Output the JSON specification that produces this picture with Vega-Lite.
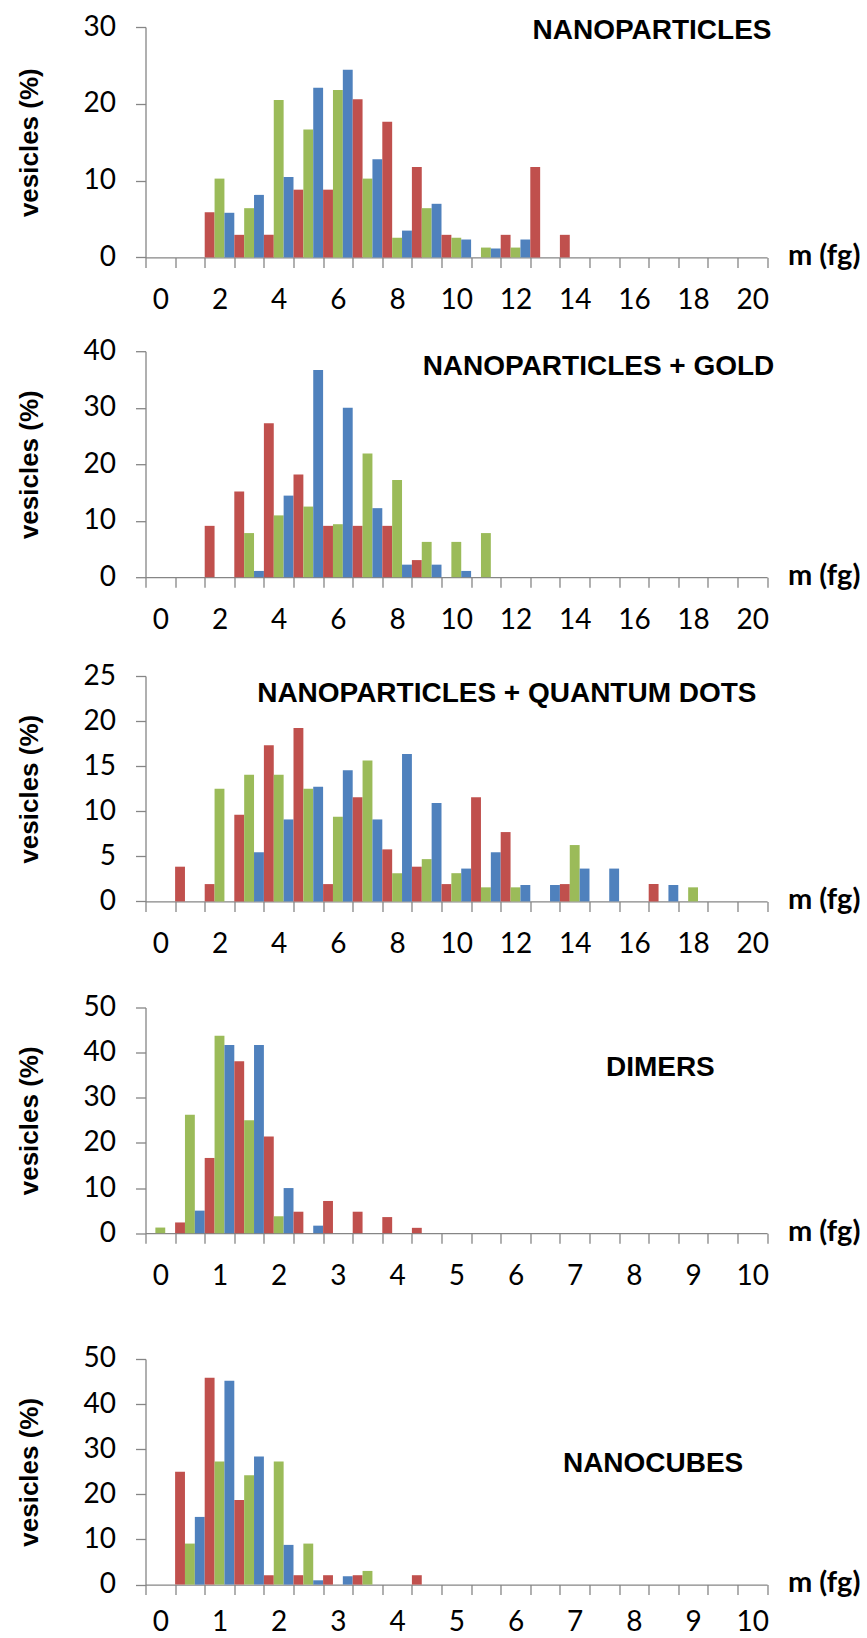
{
  "$schema": "https://vega.github.io/schema/vega-lite/v6.json",
  "padding": {"left": 15.5, "top": 13, "right": 0, "bottom": 0},
  "datasets": {
    "np": [
      {"c": 2, "s": "r", "v": 5.88}, {"c": 2, "s": "g", "v": 10.26}, {"c": 2, "s": "b", "v": 5.81},
      {"c": 3, "s": "r", "v": 2.94}, {"c": 3, "s": "g", "v": 6.41}, {"c": 3, "s": "b", "v": 8.14},
      {"c": 4, "s": "r", "v": 2.94}, {"c": 4, "s": "g", "v": 20.51}, {"c": 4, "s": "b", "v": 10.47},
      {"c": 5, "s": "r", "v": 8.82}, {"c": 5, "s": "g", "v": 16.67}, {"c": 5, "s": "b", "v": 22.09},
      {"c": 6, "s": "r", "v": 8.82}, {"c": 6, "s": "g", "v": 21.79}, {"c": 6, "s": "b", "v": 24.42},
      {"c": 7, "s": "r", "v": 20.59}, {"c": 7, "s": "g", "v": 10.26}, {"c": 7, "s": "b", "v": 12.79},
      {"c": 8, "s": "r", "v": 17.65}, {"c": 8, "s": "g", "v": 2.56}, {"c": 8, "s": "b", "v": 3.49},
      {"c": 9, "s": "r", "v": 11.76}, {"c": 9, "s": "g", "v": 6.41}, {"c": 9, "s": "b", "v": 6.98},
      {"c": 10, "s": "r", "v": 2.94}, {"c": 10, "s": "g", "v": 2.56}, {"c": 10, "s": "b", "v": 2.33},
      {"c": 11, "s": "g", "v": 1.28}, {"c": 11, "s": "b", "v": 1.16},
      {"c": 12, "s": "r", "v": 2.94}, {"c": 12, "s": "g", "v": 1.28}, {"c": 12, "s": "b", "v": 2.33},
      {"c": 13, "s": "r", "v": 11.76},
      {"c": 14, "s": "r", "v": 2.94}
    ],
    "gold": [
      {"c": 2, "s": "r", "v": 9.09},
      {"c": 3, "s": "r", "v": 15.15}, {"c": 3, "s": "g", "v": 7.81}, {"c": 3, "s": "b", "v": 1.11},
      {"c": 4, "s": "r", "v": 27.27}, {"c": 4, "s": "g", "v": 10.94}, {"c": 4, "s": "b", "v": 14.44},
      {"c": 5, "s": "r", "v": 18.18}, {"c": 5, "s": "g", "v": 12.5}, {"c": 5, "s": "b", "v": 36.67},
      {"c": 6, "s": "r", "v": 9.09}, {"c": 6, "s": "g", "v": 9.38}, {"c": 6, "s": "b", "v": 30.0},
      {"c": 7, "s": "r", "v": 9.09}, {"c": 7, "s": "g", "v": 21.88}, {"c": 7, "s": "b", "v": 12.22},
      {"c": 8, "s": "r", "v": 9.09}, {"c": 8, "s": "g", "v": 17.19}, {"c": 8, "s": "b", "v": 2.22},
      {"c": 9, "s": "r", "v": 3.03}, {"c": 9, "s": "g", "v": 6.25}, {"c": 9, "s": "b", "v": 2.22},
      {"c": 10, "s": "g", "v": 6.25}, {"c": 10, "s": "b", "v": 1.11},
      {"c": 11, "s": "g", "v": 7.81}
    ],
    "qd": [
      {"c": 1, "s": "r", "v": 3.85},
      {"c": 2, "s": "r", "v": 1.92}, {"c": 2, "s": "g", "v": 12.5},
      {"c": 3, "s": "r", "v": 9.62}, {"c": 3, "s": "g", "v": 14.06}, {"c": 3, "s": "b", "v": 5.45},
      {"c": 4, "s": "r", "v": 17.31}, {"c": 4, "s": "g", "v": 14.06}, {"c": 4, "s": "b", "v": 9.09},
      {"c": 5, "s": "r", "v": 19.23}, {"c": 5, "s": "g", "v": 12.5}, {"c": 5, "s": "b", "v": 12.73},
      {"c": 6, "s": "r", "v": 1.92}, {"c": 6, "s": "g", "v": 9.38}, {"c": 6, "s": "b", "v": 14.55},
      {"c": 7, "s": "r", "v": 11.54}, {"c": 7, "s": "g", "v": 15.63}, {"c": 7, "s": "b", "v": 9.09},
      {"c": 8, "s": "r", "v": 5.77}, {"c": 8, "s": "g", "v": 3.13}, {"c": 8, "s": "b", "v": 16.36},
      {"c": 9, "s": "r", "v": 3.85}, {"c": 9, "s": "g", "v": 4.69}, {"c": 9, "s": "b", "v": 10.91},
      {"c": 10, "s": "r", "v": 1.92}, {"c": 10, "s": "g", "v": 3.13}, {"c": 10, "s": "b", "v": 3.64},
      {"c": 11, "s": "r", "v": 11.54}, {"c": 11, "s": "g", "v": 1.56}, {"c": 11, "s": "b", "v": 5.45},
      {"c": 12, "s": "r", "v": 7.69}, {"c": 12, "s": "g", "v": 1.56}, {"c": 12, "s": "b", "v": 1.82},
      {"c": 13, "s": "b", "v": 1.82},
      {"c": 14, "s": "r", "v": 1.92}, {"c": 14, "s": "g", "v": 6.25}, {"c": 14, "s": "b", "v": 3.64},
      {"c": 15, "s": "b", "v": 3.64},
      {"c": 17, "s": "r", "v": 1.92}, {"c": 17, "s": "b", "v": 1.82},
      {"c": 18, "s": "g", "v": 1.56}
    ],
    "dimers": [
      {"c": 0, "s": "g", "v": 1.25},
      {"c": 1, "s": "r", "v": 2.38}, {"c": 1, "s": "g", "v": 26.25}, {"c": 1, "s": "b", "v": 5.0},
      {"c": 2, "s": "r", "v": 16.67}, {"c": 2, "s": "g", "v": 43.75}, {"c": 2, "s": "b", "v": 41.67},
      {"c": 3, "s": "r", "v": 38.1}, {"c": 3, "s": "g", "v": 25.0}, {"c": 3, "s": "b", "v": 41.67},
      {"c": 4, "s": "r", "v": 21.43}, {"c": 4, "s": "g", "v": 3.75}, {"c": 4, "s": "b", "v": 10.0},
      {"c": 5, "s": "r", "v": 4.76}, {"c": 5, "s": "b", "v": 1.67},
      {"c": 6, "s": "r", "v": 7.14},
      {"c": 7, "s": "r", "v": 4.76},
      {"c": 8, "s": "r", "v": 3.57},
      {"c": 9, "s": "r", "v": 1.19}
    ],
    "cubes": [
      {"c": 1, "s": "r", "v": 25.0}, {"c": 1, "s": "g", "v": 9.09}, {"c": 1, "s": "b", "v": 15.0},
      {"c": 2, "s": "r", "v": 45.83}, {"c": 2, "s": "g", "v": 27.27}, {"c": 2, "s": "b", "v": 45.2},
      {"c": 3, "s": "r", "v": 18.75}, {"c": 3, "s": "g", "v": 24.24}, {"c": 3, "s": "b", "v": 28.4},
      {"c": 4, "s": "r", "v": 2.08}, {"c": 4, "s": "g", "v": 27.27}, {"c": 4, "s": "b", "v": 8.8},
      {"c": 5, "s": "r", "v": 2.08}, {"c": 5, "s": "g", "v": 9.09}, {"c": 5, "s": "b", "v": 0.95},
      {"c": 6, "s": "r", "v": 2.08}, {"c": 6, "s": "b", "v": 1.85},
      {"c": 7, "s": "r", "v": 2.08}, {"c": 7, "s": "g", "v": 3.03},
      {"c": 9, "s": "r", "v": 2.08}
    ]
  },
  "config": {
    "view": {"stroke": null},
    "axis": {
      "domainColor": "#868686", "tickColor": "#868686", "grid": false,
      "labelColor": "#000000", "labelFont": "Lato", "labelFontSize": 28,
      "tickSize": 10, "domainWidth": 1.3, "tickWidth": 1.3
    },
    "axisX": {
      "labelAngle": 0, "labelPadding": 19, "tickBand": "extent",
      "titleX": 642, "titleY": -2, "titleAlign": "left", "titleBaseline": "middle",
      "titleFont": "Lato", "titleFontWeight": "bold", "titleFontSize": 29, "titleColor": "#000000"
    },
    "axisY": {
      "labelPadding": 20, "titleFont": "Liberation Sans", "titleFontWeight": "bold",
      "titleFontSize": 26, "titleColor": "#000000", "titlePadding": 41
    },
    "title": {"font": "Liberation Sans", "fontSize": 28, "fontWeight": "bold", "color": "#000000", "anchor": "end", "frame": "group", "baseline": "alphabetic"}
  },
  "spacing": 54,
  "vconcat": [
    {
      "spacing": 34.5,
      "vconcat": [
        {
          "spacing": 27,
          "vconcat": [
            {
              "spacing": 22.2,
              "vconcat": [
                {
                  "data": {"name": "np"},
                  "width": 621.6, "height": 230.4,
                  "title": {"text": "NANOPARTICLES", "offset": -31.5, "dx": 4.4},
                  "mark": "bar",
                  "encoding": {
                    "x": {"field": "c", "type": "ordinal", "scale": {"domain": [0,1,2,3,4,5,6,7,8,9,10,11,12,13,14,15,16,17,18,19,20], "paddingInner": 0, "paddingOuter": 0}, "axis": {"title": "m (fg)", "labelExpr": "datum.value % 2 == 0 ? datum.value : ''"}},
                    "xOffset": {"field": "s", "type": "nominal", "scale": {"domain": ["r","g","b"], "paddingInner": 0, "paddingOuter": 0}},
                    "y": {"field": "v", "type": "quantitative", "scale": {"domain": [0,30], "nice": false}, "axis": {"title": "vesicles (%)", "values": [0,10,20,30]}},
                    "color": {"field": "s", "type": "nominal", "scale": {"domain": ["r","g","b"], "range": ["#C0504D","#9BBB59","#4F81BD"]}, "legend": null}
                  }
                },
                {
                  "data": {"name": "gold"},
                  "width": 621.6, "height": 226,
                  "title": {"text": "NANOPARTICLES + GOLD", "offset": -44, "dx": 7.2},
                  "mark": "bar",
                  "encoding": {
                    "x": {"field": "c", "type": "ordinal", "scale": {"domain": [0,1,2,3,4,5,6,7,8,9,10,11,12,13,14,15,16,17,18,19,20], "paddingInner": 0, "paddingOuter": 0}, "axis": {"title": "m (fg)", "labelExpr": "datum.value % 2 == 0 ? datum.value : ''"}},
                    "xOffset": {"field": "s", "type": "nominal", "scale": {"domain": ["r","g","b"], "paddingInner": 0, "paddingOuter": 0}},
                    "y": {"field": "v", "type": "quantitative", "scale": {"domain": [0,40], "nice": false}, "axis": {"title": "vesicles (%)", "values": [0,10,20,30,40]}},
                    "color": {"field": "s", "type": "nominal", "scale": {"domain": ["r","g","b"], "range": ["#C0504D","#9BBB59","#4F81BD"]}, "legend": null}
                  }
                }
              ]
            },
            {
              "data": {"name": "qd"},
              "width": 621.6, "height": 225.4,
              "title": {"text": "NANOPARTICLES + QUANTUM DOTS", "offset": -46, "dx": -10.6},
              "mark": "bar",
              "encoding": {
                "x": {"field": "c", "type": "ordinal", "scale": {"domain": [0,1,2,3,4,5,6,7,8,9,10,11,12,13,14,15,16,17,18,19,20], "paddingInner": 0, "paddingOuter": 0}, "axis": {"title": "m (fg)", "labelExpr": "datum.value % 2 == 0 ? datum.value : ''"}},
                "xOffset": {"field": "s", "type": "nominal", "scale": {"domain": ["r","g","b"], "paddingInner": 0, "paddingOuter": 0}},
                "y": {"field": "v", "type": "quantitative", "scale": {"domain": [0,25], "nice": false}, "axis": {"title": "vesicles (%)", "values": [0,5,10,15,20,25]}},
                "color": {"field": "s", "type": "nominal", "scale": {"domain": ["r","g","b"], "range": ["#C0504D","#9BBB59","#4F81BD"]}, "legend": null}
              }
            }
          ]
        },
        {
          "data": {"name": "dimers"},
          "width": 621.6, "height": 225.7,
          "title": {"text": "DIMERS", "offset": -88.5, "dx": -52.3},
          "mark": "bar",
          "encoding": {
            "x": {"field": "c", "type": "ordinal", "scale": {"domain": [0,1,2,3,4,5,6,7,8,9,10,11,12,13,14,15,16,17,18,19,20], "paddingInner": 0, "paddingOuter": 0}, "axis": {"title": "m (fg)", "labelExpr": "datum.value % 2 == 0 ? datum.value / 2 : ''"}},
            "xOffset": {"field": "s", "type": "nominal", "scale": {"domain": ["r","g","b"], "paddingInner": 0, "paddingOuter": 0}},
            "y": {"field": "v", "type": "quantitative", "scale": {"domain": [0,50], "nice": false}, "axis": {"title": "vesicles (%)", "values": [0,10,20,30,40,50]}},
            "color": {"field": "s", "type": "nominal", "scale": {"domain": ["r","g","b"], "range": ["#C0504D","#9BBB59","#4F81BD"]}, "legend": null}
          }
        }
      ]
    },
    {
      "data": {"name": "cubes"},
      "width": 621.6, "height": 225.6,
      "title": {"text": "NANOCUBES", "offset": -133, "dx": -23.8},
      "mark": "bar",
      "encoding": {
        "x": {"field": "c", "type": "ordinal", "scale": {"domain": [0,1,2,3,4,5,6,7,8,9,10,11,12,13,14,15,16,17,18,19,20], "paddingInner": 0, "paddingOuter": 0}, "axis": {"title": "m (fg)", "labelPadding": 14, "labelExpr": "datum.value % 2 == 0 ? datum.value / 2 : ''"}},
        "xOffset": {"field": "s", "type": "nominal", "scale": {"domain": ["r","g","b"], "paddingInner": 0, "paddingOuter": 0}},
        "y": {"field": "v", "type": "quantitative", "scale": {"domain": [0,50], "nice": false}, "axis": {"title": "vesicles (%)", "values": [0,10,20,30,40,50]}},
        "color": {"field": "s", "type": "nominal", "scale": {"domain": ["r","g","b"], "range": ["#C0504D","#9BBB59","#4F81BD"]}, "legend": null}
      }
    }
  ]
}
